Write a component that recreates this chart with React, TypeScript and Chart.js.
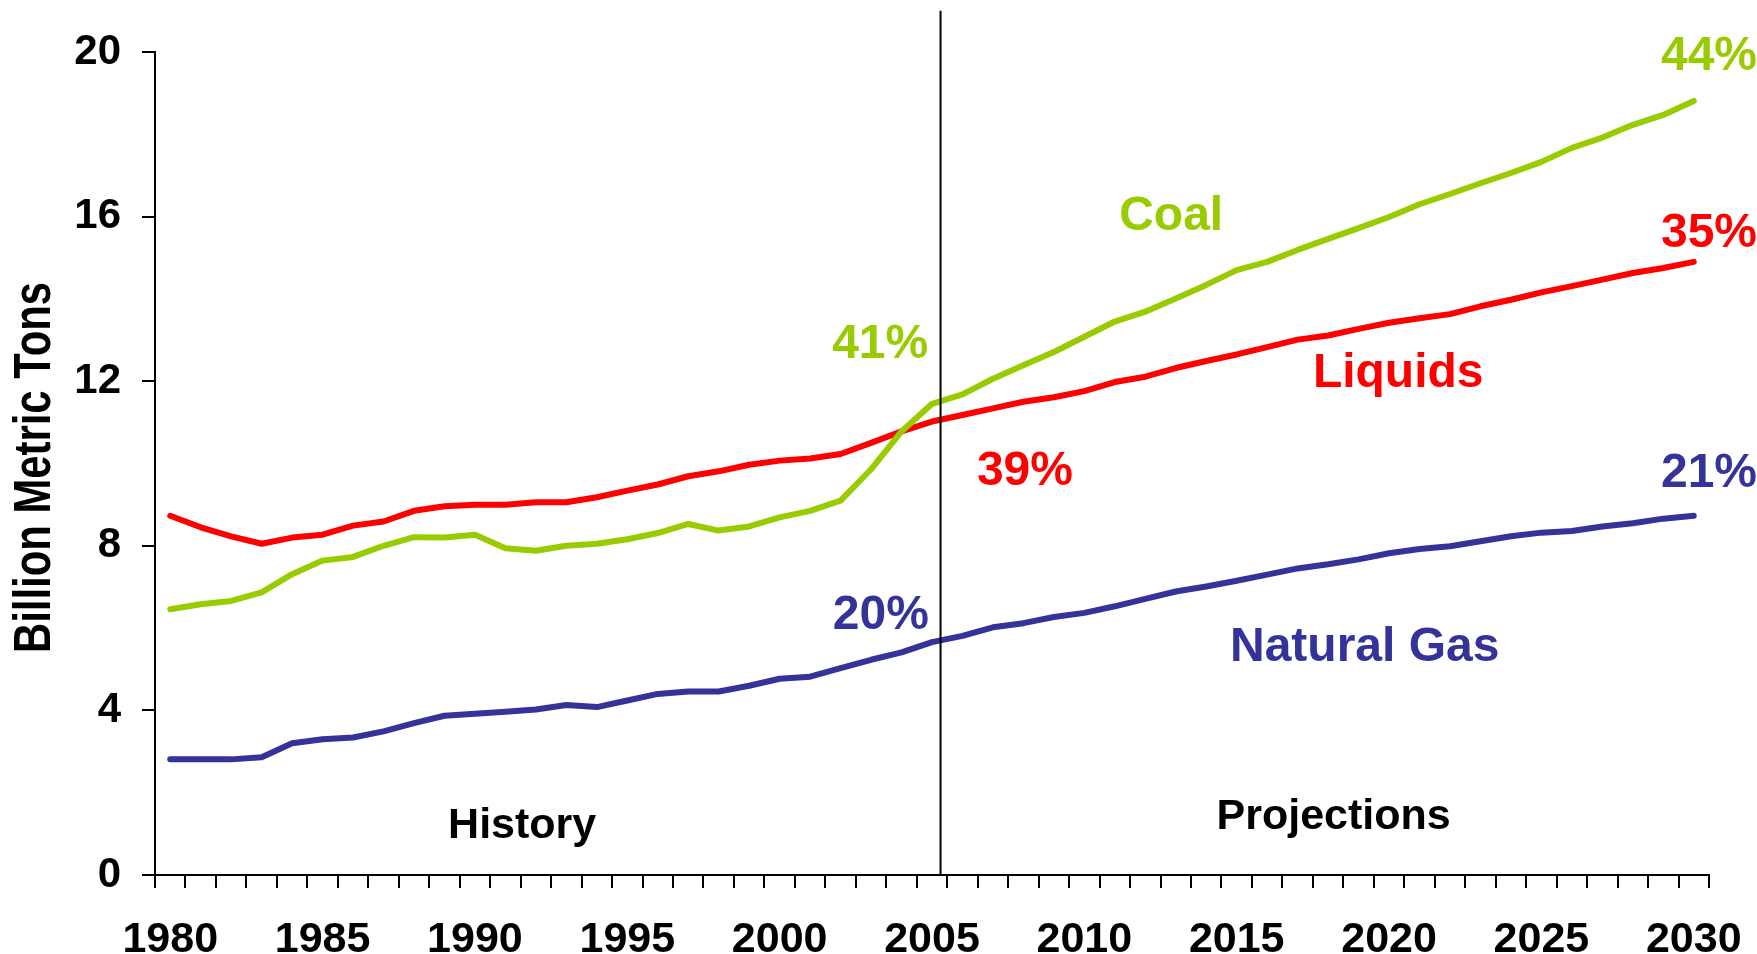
import React, { useEffect, useRef } from "react";
import { Chart, registerables } from "chart.js";

Chart.register(...registerables);

// ---- Data ----
const years: string[] = Array.from({ length: 51 }, (_, i) => String(1980 + i));

const coal: number[] = [
  6.46, 6.58, 6.66, 6.87, 7.31, 7.64, 7.73, 8.0, 8.21, 8.2, 8.27, 7.94, 7.88, 8.0, 8.05, 8.16, 8.31, 8.53, 8.37, 8.47,
  8.69, 8.85, 9.1, 9.86, 10.78, 11.45,
  11.68, 12.06, 12.39, 12.71, 13.08, 13.45, 13.69, 14.01, 14.34, 14.7, 14.9, 15.19, 15.46, 15.72, 15.99, 16.3, 16.55,
  16.81, 17.06, 17.33, 17.67, 17.92, 18.23, 18.47, 18.81,
];

const liquids: number[] = [
  8.73, 8.45, 8.23, 8.05, 8.2, 8.27, 8.49, 8.59, 8.85, 8.96, 9.0, 9.0, 9.06, 9.06, 9.18, 9.34, 9.49, 9.69, 9.81, 9.97,
  10.07, 10.12, 10.23, 10.5, 10.78, 11.02,
  11.18, 11.34, 11.5, 11.61, 11.76, 11.98, 12.11, 12.32, 12.49, 12.65, 12.83, 13.01, 13.11, 13.27, 13.42, 13.53, 13.63,
  13.82, 13.98, 14.16, 14.31, 14.47, 14.63, 14.75, 14.9,
];

const naturalGas: number[] = [
  2.81, 2.81, 2.81, 2.86, 3.2, 3.3, 3.34, 3.49, 3.69, 3.87, 3.92, 3.97, 4.02, 4.13, 4.08, 4.24, 4.4, 4.46, 4.46, 4.6,
  4.77, 4.82, 5.03, 5.23, 5.41, 5.66,
  5.81, 6.02, 6.12, 6.27, 6.37, 6.53, 6.71, 6.89, 7.01, 7.15, 7.3, 7.45, 7.55, 7.67, 7.82, 7.92, 7.99, 8.11, 8.23,
  8.32, 8.36, 8.47, 8.55, 8.66, 8.73,
];

const yTicks: number[] = [0, 4, 8, 12, 16, 20];
const yAxisTitle = "Billion Metric Tons";
const dividerYear = 2005.28;

const COAL_COLOR = "#99CC00";
const LIQ_COLOR = "#FF0000";
const GAS_COLOR = "#333399";

// text annotations, anchored in data units (year, value) -> center / baseline
const annotationTexts: string[] = ["41%", "20%", "39%", "44%", "35%", "21%", "Coal", "Liquids", "Natural Gas", "History", "Projections"];
const annotationYears: number[] = [2003.3, 2003.32, 2008.05, 2030.5, 2030.5, 2030.5, 2012.85, 2020.3, 2019.2, 1991.55, 2018.18];
const annotationValues: number[] = [12.56, 5.98, 9.48, 19.56, 15.26, 9.43, 15.67, 11.86, 5.2, 0.9, 1.12];
const annotationColors: string[] = [COAL_COLOR, GAS_COLOR, LIQ_COLOR, COAL_COLOR, LIQ_COLOR, GAS_COLOR, COAL_COLOR, LIQ_COLOR, GAS_COLOR, "#000000", "#000000"];
const annotationSizes: number[] = [48, 48, 48, 48, 48, 48, 48, 48, 48, 43, 43];

const FONT = '"Liberation Sans", Arial, sans-serif';

const overlayPlugin = {
  id: "overlay",
  afterDatasetsDraw(chart: any) {
    const { ctx, scales } = chart;
    const xs = scales.x;
    const ys = scales.y;
    const base = 1980;

    // divider line between history and projections
    const xv = xs.getPixelForValue(dividerYear - base);
    ctx.save();
    ctx.strokeStyle = "#000";
    ctx.lineWidth = 2;
    ctx.beginPath();
    ctx.moveTo(xv, ys.getPixelForValue(21));
    ctx.lineTo(xv, ys.getPixelForValue(0));
    ctx.stroke();
    ctx.restore();

    // annotations
    ctx.save();
    ctx.textAlign = "center";
    ctx.textBaseline = "alphabetic";
    for (let i = 0; i < annotationTexts.length; i++) {
      ctx.font = `bold ${annotationSizes[i]}px ${FONT}`;
      ctx.fillStyle = annotationColors[i];
      ctx.fillText(
        annotationTexts[i],
        xs.getPixelForValue(annotationYears[i] - base),
        ys.getPixelForValue(annotationValues[i])
      );
    }
    ctx.restore();
  },
  afterDraw(chart: any) {
    const { ctx, chartArea } = chart;
    const cy = (chartArea.top + chartArea.bottom) / 2 + 4;
    ctx.save();
    ctx.translate(50, cy);
    ctx.rotate(-Math.PI / 2);
    ctx.font = `bold 51px "Liberation Sans Narrow", monospace`;
    const wNarrow = ctx.measureText(yAxisTitle).width;
    ctx.font = `bold 51px monospace`;
    const wMono = ctx.measureText(yAxisTitle).width;
    ctx.textAlign = "center";
    ctx.textBaseline = "alphabetic";
    ctx.fillStyle = "#000";
    if (Math.abs(wNarrow - wMono) > 1) {
      ctx.font = `bold 51px "Liberation Sans Narrow"`;
      ctx.fillText(yAxisTitle, 0, 0);
    } else {
      ctx.scale(0.82, 1);
      ctx.font = `bold 51px ${FONT}`;
      ctx.fillText(yAxisTitle, 0, 0);
    }
    ctx.restore();
  },
};

export default function App() {
  const ref = useRef<HTMLCanvasElement | null>(null);

  useEffect(() => {
    if (!ref.current) return;
    const lineStyle = {
      borderWidth: 6,
      pointRadius: 0,
      tension: 0,
      borderCapStyle: "round",
      borderJoinStyle: "round",
    };
    const chart = new Chart(ref.current, {
      type: "line",
      data: {
        labels: years,
        datasets: [
          { label: "Coal", data: coal, borderColor: COAL_COLOR, backgroundColor: COAL_COLOR, ...lineStyle },
          { label: "Liquids", data: liquids, borderColor: LIQ_COLOR, backgroundColor: LIQ_COLOR, ...lineStyle },
          { label: "Natural Gas", data: naturalGas, borderColor: GAS_COLOR, backgroundColor: GAS_COLOR, ...lineStyle },
        ],
      },
      options: {
        responsive: false,
        animation: false,
        layout: { padding: { left: 0, top: 52, right: 48, bottom: 0 } },
        plugins: {
          legend: { display: false },
          tooltip: { enabled: false },
          title: { display: false },
        },
        scales: {
          x: {
            type: "category",
            offset: true,
            afterFit: (s: any) => {
              s.height = 79;
              s.paddingLeft = 0;
              s.paddingRight = 0;
            },
            grid: {
              offset: true,
              drawOnChartArea: false,
              drawTicks: true,
              tickLength: 13,
              color: "#000",
              lineWidth: 2,
            },
            border: { display: true, color: "#000", width: 2 },
            ticks: {
              autoSkip: false,
              maxRotation: 0,
              minRotation: 0,
              padding: 26,
              color: "#000",
              font: { family: FONT, size: 43, weight: "bold" },
              callback: (_v: any, i: number) => (Number(years[i]) % 5 === 0 ? years[i] : ""),
            },
          },
          y: {
            min: 0,
            max: 20,
            afterFit: (s: any) => {
              s.width = 155;
              s.paddingTop = 0;
              s.paddingBottom = 0;
            },
            afterBuildTicks: (s: any) => {
              s.ticks = yTicks.map((v) => ({ value: v }));
            },
            grid: {
              drawOnChartArea: false,
              drawTicks: true,
              tickLength: 13,
              color: "#000",
              lineWidth: 2,
            },
            border: { display: true, color: "#000", width: 2 },
            ticks: {
              padding: 21,
              color: "#000",
              font: { family: FONT, size: 42, weight: "bold" },
            },
          },
        },
      },
      plugins: [overlayPlugin],
    } as any);
    return () => chart.destroy();
  }, []);

  return (
    <div style={{ position: "fixed", left: 0, top: 0, width: 1757, height: 954, background: "#fff" }}>
      <canvas ref={ref} width={1757} height={954} style={{ width: 1757, height: 954, display: "block" }} />
    </div>
  );
}
